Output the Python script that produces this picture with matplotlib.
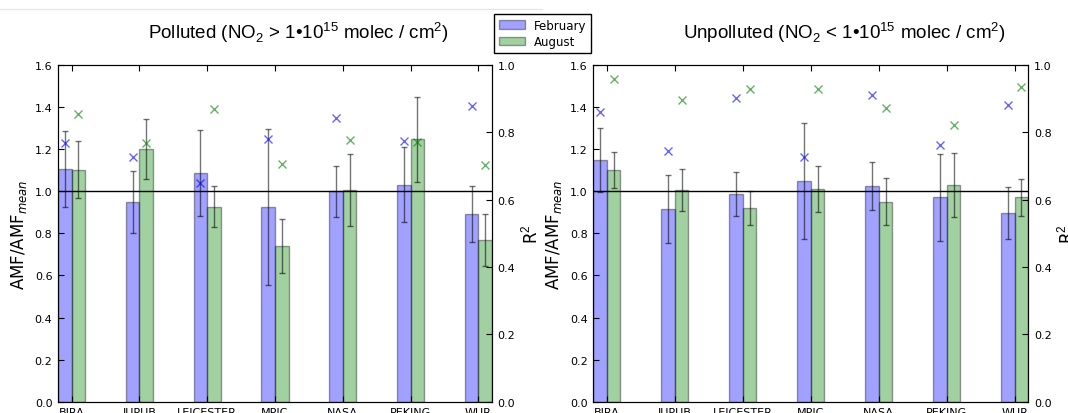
import numpy as np
import matplotlib.pyplot as plt
from matplotlib.patches import Patch
from matplotlib.lines import Line2D
from matplotlib.ticker import FormatStrFormatter

plt.rcParams['mathtext.fontset'] = 'custom'
plt.rcParams['mathtext.rm'] = 'Liberation Sans'
plt.rcParams['mathtext.it'] = 'DejaVu Sans:italic'

groups = ['BIRA', 'IUPUB', 'LEICESTER', 'MPIC', 'NASA', 'PEKING', 'WUR']

# polluted: AMF/AMF_mean, half error bars, R^2
pol_feb = [1.106, 0.947, 1.087, 0.924, 0.999, 1.030, 0.891]
pol_feb_err = [0.182, 0.147, 0.204, 0.370, 0.120, 0.178, 0.132]
pol_aug = [1.103, 1.201, 0.926, 0.739, 1.007, 1.246, 0.769]
pol_aug_err = [0.134, 0.141, 0.098, 0.127, 0.170, 0.201, 0.125]
pol_feb_r2 = [0.768, 0.727, 0.648, 0.780, 0.842, 0.774, 0.879]
pol_aug_r2 = [0.855, 0.767, 0.869, 0.706, 0.778, 0.772, 0.704]

# unpolluted
unp_feb = [1.149, 0.916, 0.987, 1.048, 1.023, 0.971, 0.897]
unp_feb_err = [0.151, 0.162, 0.103, 0.274, 0.114, 0.206, 0.124]
unp_aug = [1.100, 1.006, 0.920, 1.010, 0.950, 1.029, 0.971]
unp_aug_err = [0.085, 0.098, 0.080, 0.109, 0.112, 0.153, 0.087]
unp_feb_r2 = [0.860, 0.744, 0.903, 0.726, 0.911, 0.761, 0.881]
unp_aug_r2 = [0.959, 0.895, 0.929, 0.928, 0.873, 0.821, 0.934]

w = 0.2
bar_alpha = 0.37


def draw_panel(ax, feb, feb_err, aug, aug_err, feb_r2, aug_r2):
    x = np.arange(len(groups))
    ax.bar(x - w, feb, w, align='edge', color='b', alpha=bar_alpha, edgecolor='k', linewidth=1)
    ax.bar(x, aug, w, align='edge', color='g', alpha=bar_alpha, edgecolor='k', linewidth=1)
    ax.errorbar(x - w / 2, feb, yerr=feb_err, fmt='none', ecolor='k', alpha=0.55,
                capsize=2.5, elinewidth=1, capthick=1)
    ax.errorbar(x + w / 2, aug, yerr=aug_err, fmt='none', ecolor='k', alpha=0.55,
                capsize=2.5, elinewidth=1, capthick=1)
    ax.axhline(1.0, color='k', lw=1)
    ax.set_xlim(-0.2, 6.2)
    ax.set_ylim(0, 1.6)
    ax.set_yticks(np.arange(0, 1.61, 0.2))
    ax.yaxis.set_major_formatter(FormatStrFormatter('%.1f'))
    ax.set_xticks(x)
    ax.set_xticklabels(groups)
    ax.tick_params(direction='in', top=True, length=4, labelsize=8, pad=4)
    ax.set_ylabel('AMF/AMF$_{mean}$', fontsize=12)

    ax2 = ax.twinx()
    ax2.plot(x - w / 2, feb_r2, 'x', color='b', alpha=0.6, ms=5.5, mew=1)
    ax2.plot(x + w / 2, aug_r2, 'x', color='g', alpha=0.6, ms=5.5, mew=1)
    ax2.set_ylim(0, 1.0)
    ax2.set_yticks(np.arange(0, 1.01, 0.2))
    ax2.yaxis.set_major_formatter(FormatStrFormatter('%.1f'))
    ax2.tick_params(direction='in', length=4, labelsize=8, pad=4)
    ax2.set_ylabel('R$^2$', fontsize=12)
    return ax2


fig = plt.figure(figsize=(10.68, 4.14), dpi=100)
ax_l = fig.add_axes([0.0543, 0.027, 0.4064, 0.814])
ax_r = fig.add_axes([0.5555, 0.027, 0.4073, 0.814])

draw_panel(ax_l, pol_feb, pol_feb_err, pol_aug, pol_aug_err, pol_feb_r2, pol_aug_r2)
draw_panel(ax_r, unp_feb, unp_feb_err, unp_aug, unp_aug_err, unp_feb_r2, unp_aug_r2)

fig.text(0.279, 0.921, 'Polluted (NO$_2$ > 1\u202210$^{15}$ molec / cm$^2$)',
         family='Liberation Sans', fontsize=13.5, ha='center', va='center')
fig.text(0.791, 0.921, 'Unpolluted (NO$_2$ < 1\u202210$^{15}$ molec / cm$^2$)',
         family='Liberation Sans', fontsize=13.5, ha='center', va='center')

handles = [Patch(facecolor='b', edgecolor='k', alpha=bar_alpha, label='February'),
           Patch(facecolor='g', edgecolor='k', alpha=bar_alpha, label='August')]
leg = fig.legend(handles=handles, loc='upper left', bbox_to_anchor=(494 / 1068, 1 - 15 / 414),
                 fontsize=8.5, fancybox=False, framealpha=1, borderaxespad=0,
                 handlelength=2.2, borderpad=0.4, labelspacing=0.3)
leg.get_frame().set_edgecolor('k')

# faint separator line at the very top
fig.add_artist(Line2D([0, 542 / 1068], [1 - 10 / 414, 1 - 10 / 414], color='#e6e6e6', lw=1))

fig.savefig('out.png', dpi=100)
